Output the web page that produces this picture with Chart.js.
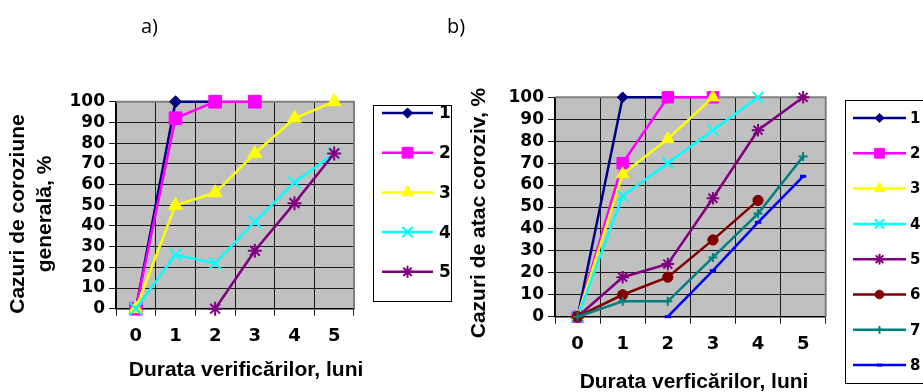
<!DOCTYPE html>
<html>
<head>
<meta charset="utf-8">
<script src="https://cdn.jsdelivr.net/npm/chart.js@4.4.1/dist/chart.umd.min.js"></script>
<style>
  html, body { margin: 0; padding: 0; background: #fff; }
  #wrap { position: relative; width: 923px; height: 392px; overflow: hidden; }
  canvas { position: absolute; top: 0; }
  .tag { position: absolute; top: 12px; font: 20px 'Open Sans'; color: #000; line-height: 27px; }
</style>
</head>
<body>
<div id="wrap">
  <canvas id="chartA" width="460" height="392" style="left:0"></canvas>
  <canvas id="chartB" width="463" height="392" style="left:460px"></canvas>
  <div class="tag" style="left:141px">a)</div>
  <div class="tag" style="left:447px">b)</div>
</div>
<script>
// Months of inspection (category axis)
const months = ['0', '1', '2', '3', '4', '5'];
const seriesNames = ['1', '2', '3', '4', '5', '6', '7', '8'];

// a) general corrosion cases, %
const genS1 = [0, 100, 100, null, null, null];
const genS2 = [0, 92, 100, 100, null, null];
const genS3 = [0, 50, 56, 75, 92, 100];
const genS4 = [0, 26, 22, 42, 61, 75];
const genS5 = [null, null, 0, 28, 51, 75];

// b) corrosive attack cases, %
const atkS1 = [0, 100, 100, null, null, null];
const atkS2 = [0, 70, 100, 100, null, null];
const atkS3 = [0, 65, 81, 100, null, null];
const atkS4 = [0, 55, 70, 85, 100, null];
const atkS5 = [0, 18, 24, 54, 85, 100];
const atkS6 = [0, 10, 18, 35, 53, null];
const atkS7 = [0, 7, 7, 27, 47, 73];
const atkS8 = [null, null, 0, 21, 43, 64];

const yTicksMax = 100;
const yTicksStep = 10;

// look of each series (Excel defaults)
const looks = [
  { color: '#000080', style: 'rectRot',  r: 6,   bw: 1 },
  { color: '#FF00FF', style: 'rect',     r: 9,   bw: 1 },
  { color: '#FFFF00', style: 'triangle', r: 8,   bw: 1 },
  { color: '#00FFFF', style: 'crossRot', r: 8.5, bw: 2 },
  { color: '#800080', style: 'star',     r: 7,   bw: 2 },
  { color: '#800000', style: 'circle',   r: 5.7, bw: 1 },
  { color: '#008080', style: 'cross',    r: 5,   bw: 2 },
  { color: '#0000FF', style: 'line',     r: 3.5, bw: 3 }
];

const BOLD = 'bold';
const tickFamily = 'DejaVu Sans';
const titleFamily = 'Liberation Sans, Arial, sans-serif';

function buildDatasets(seriesData, markScale) {
  return seriesData.map((data, i) => ({
    label: seriesNames[i],
    data: data,
    borderColor: looks[i].color,
    backgroundColor: looks[i].color,
    pointBackgroundColor: looks[i].color,
    pointBorderColor: looks[i].color,
    pointStyle: looks[i].style,
    pointRadius: looks[i].r * markScale,
    pointBorderWidth: looks[i].bw,
    borderWidth: 2.5,
    tension: 0,
    clip: false,
    order: seriesData.length - i
  }));
}

// gray plot background + gray frame on top/right
const plotFrame = {
  id: 'plotFrame',
  beforeDraw(chart) {
    const { ctx, chartArea: a } = chart;
    ctx.save();
    ctx.fillStyle = '#C0C0C0';
    ctx.fillRect(a.left, a.top, a.right - a.left, a.bottom - a.top);
    ctx.restore();
  },
  beforeDatasetsDraw(chart) {
    const { ctx, chartArea: a } = chart;
    ctx.save();
    ctx.strokeStyle = '#808080';
    ctx.lineWidth = 2;
    ctx.beginPath();
    ctx.moveTo(a.left, a.top);
    ctx.lineTo(a.right, a.top);
    ctx.lineTo(a.right, a.bottom);
    ctx.stroke();
    ctx.restore();
  }
};

function textPlugin(items) {
  return {
    id: 'freeText',
    afterDraw(chart) {
      const ctx = chart.ctx;
      items.forEach(t => {
        ctx.save();
        ctx.translate(t.x, t.y);
        ctx.rotate(t.rot || 0);
        ctx.font = 'bold ' + t.size + 'px ' + titleFamily;
        ctx.fillStyle = '#000';
        ctx.textAlign = 'center';
        ctx.textBaseline = 'middle';
        ctx.fillText(t.text, 0, 0);
        ctx.restore();
      });
    }
  };
}

function legendPlugin(cfg) {
  return {
    id: 'boxLegend',
    afterDraw(chart) {
      const ctx = chart.ctx;
      ctx.save();
      ctx.strokeStyle = '#000';
      ctx.lineWidth = 1;
      ctx.strokeRect(cfg.box[0] + 0.5, cfg.box[1] + 0.5, cfg.box[2], cfg.box[3]);
      chart.data.datasets.forEach((ds, i) => {
        const y = cfg.firstY + i * cfg.stepY;
        ctx.strokeStyle = ds.borderColor;
        ctx.lineWidth = ds.borderWidth;
        ctx.beginPath();
        ctx.moveTo(cfg.lineX[0], y);
        ctx.lineTo(cfg.lineX[1], y);
        ctx.stroke();
        ctx.fillStyle = ds.pointBackgroundColor;
        ctx.strokeStyle = ds.pointBorderColor;
        ctx.lineWidth = ds.pointBorderWidth;
        Chart.helpers.drawPoint(ctx, {
          pointStyle: ds.pointStyle,
          radius: ds.pointRadius * cfg.markScale,
          rotation: 0,
          borderWidth: ds.pointBorderWidth
        }, (cfg.lineX[0] + cfg.lineX[1]) / 2, y);
        ctx.fillStyle = '#000';
        ctx.font = 'bold ' + cfg.fontSize + 'px ' + tickFamily;
        ctx.textAlign = 'left';
        ctx.textBaseline = 'middle';
        ctx.fillText(ds.label, cfg.labelX, y + 1);
      });
      ctx.restore();
    }
  };
}

function makeChart(id, seriesData, lay, texts, legend) {
  const grid = { color: '#1a1a1a', lineWidth: 1, tickLength: 7, tickColor: '#1a1a1a', tickWidth: 1 };
  return new Chart(document.getElementById(id), {
    type: 'line',
    data: { labels: months, datasets: buildDatasets(seriesData, lay.markScale) },
    options: {
      responsive: false,
      animation: false,
      events: [],
      layout: { padding: { left: 0, right: lay.padRight, top: lay.padTop, bottom: 0 } },
      plugins: { legend: { display: false }, tooltip: { enabled: false }, title: { display: false } },
      scales: {
        x: {
          type: 'category',
          offset: true,
          grid: Object.assign({ offset: true }, grid),
          border: { color: '#000', width: 1.5 },
          ticks: { color: '#000', padding: 10, maxRotation: 0, autoSkip: false, font: { family: tickFamily, size: 18, weight: BOLD } },
          afterFit: s => { s.height = lay.xHeight; }
        },
        y: {
          min: 0,
          max: yTicksMax,
          grid: grid,
          border: { color: '#000', width: 1.5 },
          ticks: { stepSize: yTicksStep, autoSkip: false, color: '#000', padding: 4, font: { family: tickFamily, size: 17, weight: BOLD, lineHeight: 1 } },
          afterFit: s => { s.width = lay.yWidth; }
        }
      }
    },
    plugins: [plotFrame, textPlugin(texts), legendPlugin(legend)]
  });
}

// a) Cazuri de coroziune generală
makeChart('chartA', [genS1, genS2, genS3, genS4, genS5],
  { padRight: 106, padTop: 101.7, xHeight: 83.3, yWidth: 116, markScale: 1 },
  [
    { text: 'Cazuri de coroziune', x: 18, y: 214, rot: -Math.PI / 2, size: 21 },
    { text: 'generală, %', x: 45, y: 214, rot: -Math.PI / 2, size: 21 },
    { text: 'Durata verificărilor, luni', x: 246, y: 370, size: 21 }
  ],
  { box: [373, 105, 78, 196], firstY: 113, stepY: 39.7, lineX: [382, 433], labelX: 439, fontSize: 17, markScale: 0.85 }
);

// b) Cazuri de atac coroziv
makeChart('chartB', [atkS1, atkS2, atkS3, atkS4, atkS5, atkS6, atkS7, atkS8],
  { padRight: 97.3, padTop: 97.3, xHeight: 75.3, yWidth: 95, markScale: 0.9 },
  [
    { text: 'Cazuri de atac coroziv, %', x: 19, y: 213, rot: -Math.PI / 2, size: 21 },
    { text: 'Durata verficărilor, luni', x: 234, y: 382, size: 21 }
  ],
  { box: [385, 100, 90, 283], firstY: 118, stepY: 35.3, lineX: [393, 446], labelX: 450, fontSize: 15, markScale: 0.85 }
);
</script>
</body>
</html>
